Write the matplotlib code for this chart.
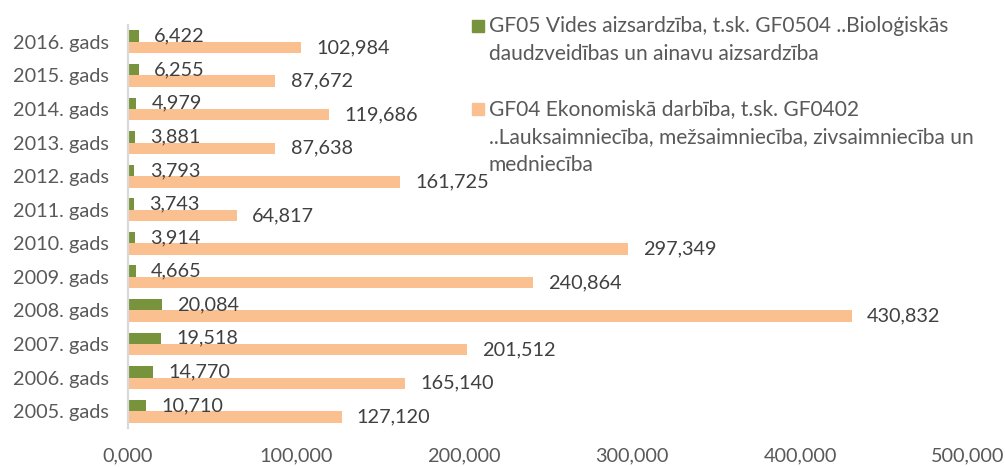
import matplotlib

matplotlib.use("Agg")
import matplotlib.pyplot as plt
from matplotlib.patches import Rectangle
import numpy as np

plt.rcParams["font.family"] = ["Lato", "DejaVu Sans"]

years = ["2005. gads", "2006. gads", "2007. gads", "2008. gads", "2009. gads", "2010. gads",
         "2011. gads", "2012. gads", "2013. gads", "2014. gads", "2015. gads", "2016. gads"]
# thousand EUR, comma is the decimal separator in the source
gf05 = [10.710, 14.770, 19.518, 20.084, 4.665, 3.914, 3.743, 3.793, 3.881, 4.979, 6.255, 6.422]
gf04 = [127.120, 165.140, 201.512, 430.832, 240.864, 297.349, 64.817, 161.725, 87.638, 119.686, 87.672, 102.984]
x_ticks = [0, 100, 200, 300, 400, 500]

label_gf05 = "GF05 Vides aizsardzība, t.sk. GF0504 ..Bioloģiskās\ndaudzveidības un ainavu aizsardzība"
label_gf04 = ("GF04 Ekonomiskā darbība, t.sk. GF0402\n"
              "..Lauksaimniecība, mežsaimniecība, zivsaimniecība un\nmedniecība")

GREEN = "#77933C"
ORANGE = "#FAC090"
TXT = "#595959"
LBL = "#404040"
FS = 14.3


def lv(v):
    return f"{v:,.3f}".replace(",", " ").replace(".", ",")


fig = plt.figure(figsize=(10.05, 4.67), dpi=100)
ax = fig.add_axes([128 / 1005, 39 / 467, 840 / 1005, 403 / 467])

y = np.arange(len(years))
h = 0.34
b1 = ax.barh(y + h / 2, gf05, height=h, color=GREEN)
b2 = ax.barh(y - h / 2, gf04, height=h, color=ORANGE)
ax.bar_label(b1, labels=[lv(v) for v in gf05], padding=11, color=LBL, fontsize=FS)
ax.bar_label(b2, labels=[lv(v) for v in gf04], padding=11, color=LBL, fontsize=FS)

ax.set_xlim(0, 500)
ax.set_ylim(-0.5, len(years) - 0.5)
ax.set_yticks(y, years)
ax.set_xticks(x_ticks, [lv(t) for t in x_ticks])
ax.tick_params(length=0, labelsize=FS, colors=TXT)
ax.tick_params(axis="y", pad=14)
ax.tick_params(axis="x", pad=14)
for s in ["top", "right", "bottom"]:
    ax.spines[s].set_visible(False)
ax.spines["left"].set_color("#D9D9D9")
ax.spines["left"].set_linewidth(1.6)

# legend drawn by hand so the swatch sits on the first line of wrapped text
W, H = 1005, 467
for top, col, lab in [(20, GREEN, label_gf05), (103, ORANGE, label_gf04)]:
    fig.add_artist(Rectangle((472 / W, 1 - (top + 12) / H), 12 / W, 12 / H,
                             transform=fig.transFigure, color=col))
    fig.text(489 / W, 1 - (top - 4) / H, lab, ha="left", va="top", fontsize=15.1,
             color=TXT, linespacing=1.5)

fig.savefig("out.png", dpi=100)
